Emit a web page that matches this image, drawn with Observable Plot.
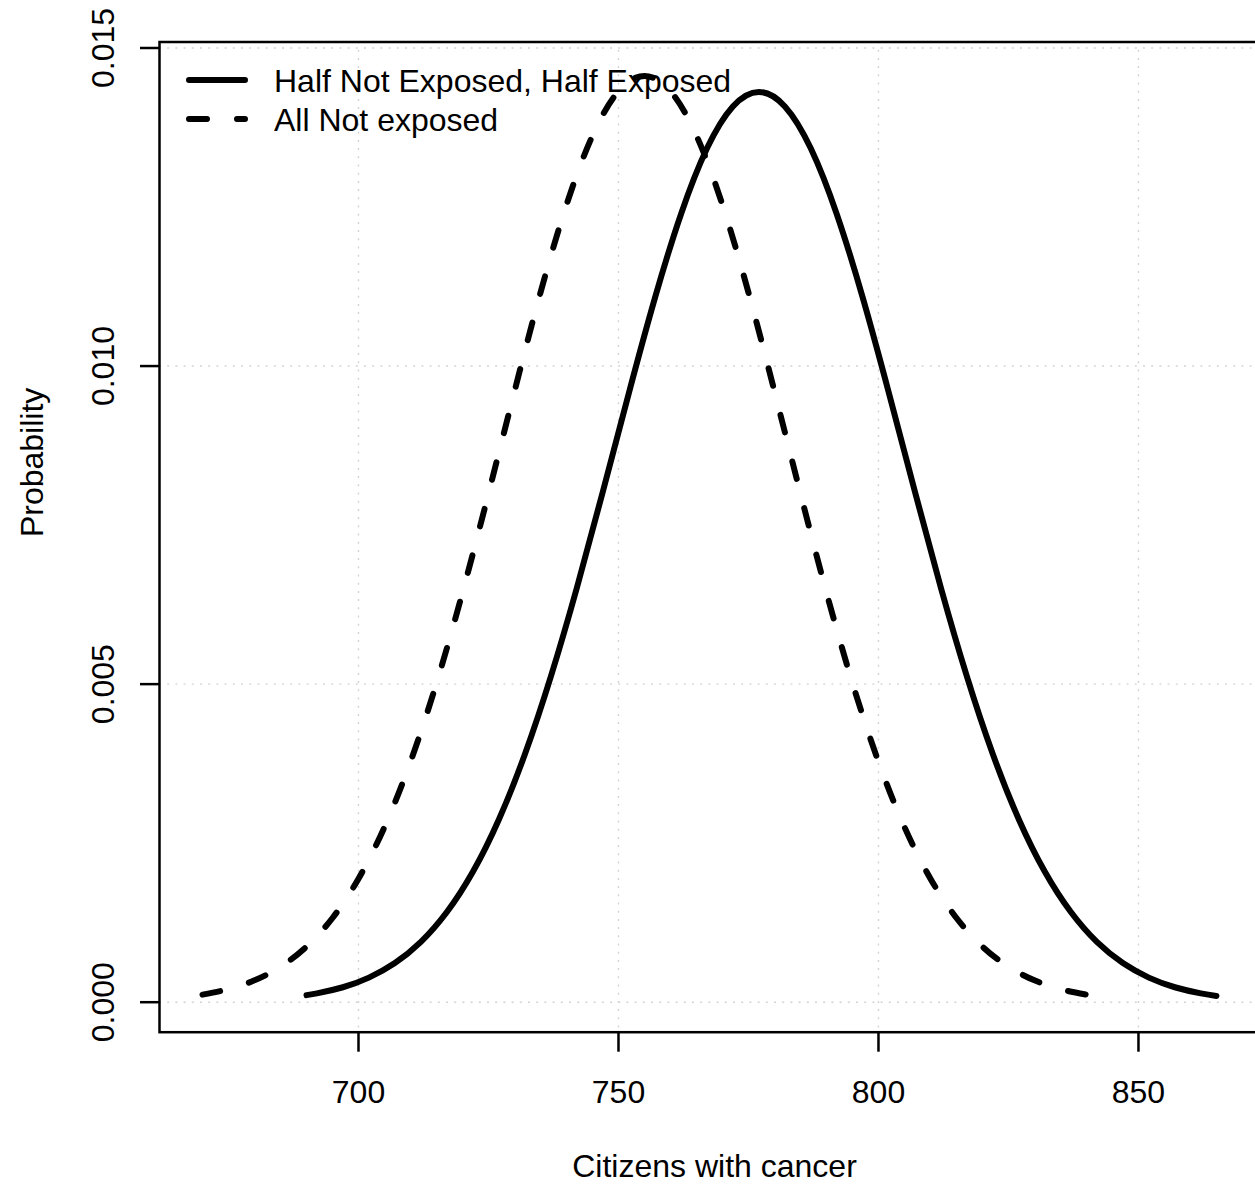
<!DOCTYPE html>
<html>
<head>
<meta charset="utf-8">
<script src="https://cdn.jsdelivr.net/npm/d3@7"></script>
<script src="https://cdn.jsdelivr.net/npm/@observablehq/plot@0.6"></script>
<style>
  html, body { margin: 0; padding: 0; background: white; overflow: hidden; }
  #wrap { position: relative; width: 1255px; height: 1188px; }
  #legend { position: absolute; left: 0; top: 0; pointer-events: none; }
</style>
</head>
<body>
<div id="wrap"></div>
<script>
// ---- data ----
const dashedX = [670,675,680,685,690,695,700,705,710,715,720,725,730,735,740,745,750,755,760,765,770,775,780,785,790,795,800,805,810,815,820,825,830,835,840];
const dashedY = [0.000119,0.000205,0.000344,0.000557,0.000873,0.001324,0.001942,0.002754,0.003780,0.005016,0.006439,0.007996,0.009602,0.011155,0.012534,0.013622,0.014320,0.014560,0.014320,0.013622,0.012534,0.011155,0.009602,0.007996,0.006439,0.005016,0.003780,0.002754,0.001942,0.001324,0.000873,0.000557,0.000344,0.000205,0.000119];
const solidX = [690,692,697,702,707,712,717,722,727,732,737,742,747,752,757,762,767,772,777,782,787,792,797,802,807,812,817,822,827,832,837,842,847,852,857,862,865];
const solidY = [0.000111,0.000138,0.000235,0.000386,0.000615,0.000948,0.001417,0.002050,0.002873,0.003897,0.005121,0.006515,0.008027,0.009578,0.011068,0.012384,0.013420,0.014082,0.014310,0.014082,0.013420,0.012384,0.011068,0.009578,0.008027,0.006515,0.005121,0.003897,0.002873,0.002050,0.001417,0.000948,0.000615,0.000386,0.000235,0.000138,0.0000989];
const xTicks = [700, 750, 800, 850];
const xTickLabels = ["700", "750", "800", "850"];
const yTicks = [0, 0.005, 0.010, 0.015];
const yTickLabels = ["0.000", "0.005", "0.010", "0.015"];
const xTitle = "Citizens with cancer";
const yTitle = "Probability";
const legendLabels = ["Half Not Exposed, Half Exposed", "All Not exposed"];

// ---- build tables ----
const dashed = dashedX.map((x, i) => ({x, y: dashedY[i]}));
const solid = solidX.map((x, i) => ({x, y: solidY[i]}));
const yTickRows = yTicks.map((v, i) => ({v, label: yTickLabels[i]}));

const FONT = "'Liberation Sans', Arial, Helvetica, sans-serif";
const grid = {stroke: "#d3d3d3", strokeWidth: 1.4, strokeDasharray: "2,6.2"};
const DASH = "18,30";
const LW = 6;

const chart = Plot.plot({
  width: 1255,
  height: 1188,
  marginLeft: 159,
  marginRight: -14,
  marginTop: 41.5,
  marginBottom: 156.3,
  style: {fontFamily: FONT, fontSize: "32px", background: "white", color: "black"},
  x: {domain: [661.73, 875.2]},
  y: {domain: [-0.0004716, 0.0150943]},
  marks: [
    Plot.ruleX(xTicks, grid),
    Plot.ruleY(yTicks, grid),
    Plot.line(dashed, {x: "x", y: "y", stroke: "black", strokeWidth: LW, strokeDasharray: DASH, strokeLinecap: "round", strokeLinejoin: "round", curve: "natural"}),
    Plot.line(solid, {x: "x", y: "y", stroke: "black", strokeWidth: LW, strokeLinecap: "round", strokeLinejoin: "round", curve: "natural"}),
    Plot.frame({stroke: "black", strokeWidth: 2.5}),
    Plot.axisX(xTicks, {tickSize: 20, tickPadding: 27.6, fontSize: 32, strokeWidth: 2.5, tickFormat: (d) => xTickLabels[xTicks.indexOf(d)], label: null}),
    Plot.axisY(yTicks, {tickSize: 19, strokeWidth: 2.5, tickFormat: () => "", label: null}),
    Plot.text(yTickRows, {y: "v", text: "label", frameAnchor: "left", dx: -46, rotate: -90, textAnchor: "middle", lineAnchor: "bottom", fontSize: 32, fill: "black"}),
    Plot.text([xTitle], {text: (d) => d, frameAnchor: "bottom", dy: 144.3, lineAnchor: "bottom", fontSize: 32, fill: "black"}),
    Plot.text([yTitle], {text: (d) => d, frameAnchor: "left", dx: -117, rotate: -90, lineAnchor: "bottom", fontSize: 32, fill: "black"})
  ]
});

const wrap = document.getElementById("wrap");
wrap.appendChild(chart);

// ---- legend (inside plot area, top-left) ----
const ns = "http://www.w3.org/2000/svg";
const leg = document.createElementNS(ns, "svg");
leg.setAttribute("id", "legend");
leg.setAttribute("width", 1255);
leg.setAttribute("height", 1188);
const rows = [{dash: null, y: 80}, {dash: DASH, y: 119}];
rows.forEach((r, i) => {
  const ln = document.createElementNS(ns, "line");
  ln.setAttribute("x1", 189); ln.setAttribute("x2", 245);
  ln.setAttribute("y1", r.y); ln.setAttribute("y2", r.y);
  ln.setAttribute("stroke", "black");
  ln.setAttribute("stroke-width", LW);
  ln.setAttribute("stroke-linecap", "round");
  if (r.dash) ln.setAttribute("stroke-dasharray", r.dash);
  leg.appendChild(ln);
  const t = document.createElementNS(ns, "text");
  t.setAttribute("x", 274);
  t.setAttribute("y", r.y + 12);
  t.setAttribute("font-family", FONT);
  t.setAttribute("font-size", 32);
  t.setAttribute("fill", "black");
  t.textContent = legendLabels[i];
  leg.appendChild(t);
});
wrap.appendChild(leg);
</script>
</body>
</html>
